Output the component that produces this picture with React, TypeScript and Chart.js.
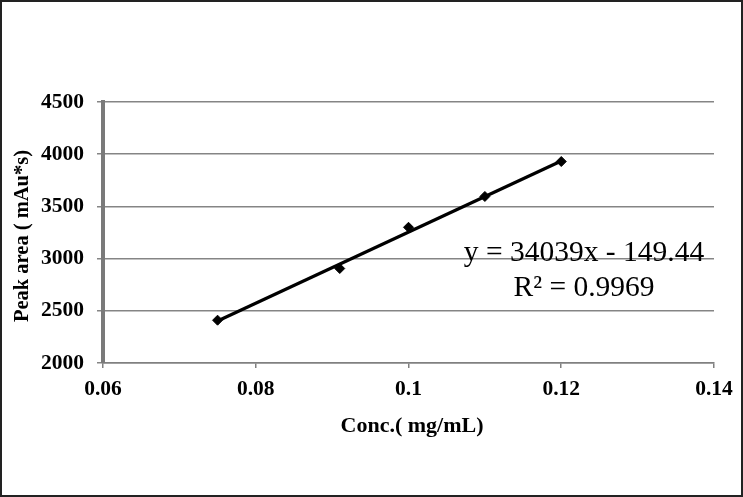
import React, { useEffect, useRef } from "react";
import { Chart, registerables } from "chart.js";

Chart.register(...registerables);

// Data
const concValues = [0.075, 0.091, 0.1, 0.11, 0.12];
const peakAreas = [2410, 2905, 3300, 3595, 3930];
const trendX = [0.075, 0.12];
const trendY = [2403, 3935];
const xTickValues = [0.06, 0.08, 0.1, 0.12, 0.14];
const xTickLabels = ["0.06", "0.08", "0.1", "0.12", "0.14"];
const yTickValues = [2000, 2500, 3000, 3500, 4000, 4500];
const yTickLabels = ["2000", "2500", "3000", "3500", "4000", "4500"];
const xAxisTitle = "Conc.( mg/mL)";
const yAxisTitle = "Peak area ( mAu*s)";
const equationText = "y = 34039x - 149.44";
const r2Text = "R² = 0.9969";

const W = 743;
const H = 497;
const SERIF = "'Liberation Serif', 'Times New Roman', serif";

export default function App() {
  const ref = useRef<HTMLCanvasElement | null>(null);

  useEffect(() => {
    if (!ref.current) return;
    const decor = {
      id: "decor",
      afterDraw(chart: any) {
        const ctx = chart.ctx;
        ctx.save();
        // frame
        ctx.strokeStyle = "#222";
        ctx.lineWidth = 2;
        ctx.strokeRect(1, 1, W - 2, H - 2);
        ctx.fillStyle = "#000";
        // y title
        ctx.save();
        ctx.translate(23, 236);
        ctx.rotate(-Math.PI / 2);
        ctx.font = `bold 20.5px ${SERIF}`;
        ctx.textAlign = "center";
        ctx.textBaseline = "middle";
        ctx.fillText(yAxisTitle, 0, 0);
        ctx.restore();
        // x title
        ctx.font = `bold 22px ${SERIF}`;
        ctx.textAlign = "center";
        ctx.textBaseline = "middle";
        ctx.fillText(xAxisTitle, 412, 426);
        // equation
        ctx.font = `29.5px ${SERIF}`;
        ctx.fillText(equationText, 584, 253);
        ctx.fillText(r2Text, 584, 288);
        ctx.restore();
      },
    };

    const chart = new Chart(ref.current, {
      type: "scatter",
      data: {
        datasets: [
          {
            type: "line",
            data: trendX.map((x, i) => ({ x, y: trendY[i] })),
            borderColor: "#000",
            borderWidth: 3.2,
            pointRadius: 0,
            showLine: true,
            fill: false,
          } as any,
          {
            data: concValues.map((x, i) => ({ x, y: peakAreas[i] })),
            backgroundColor: "#000",
            borderColor: "#000",
            pointStyle: "rectRot",
            pointRadius: 5,
            borderWidth: 1,
          },
        ],
      },
      options: {
        animation: false,
        responsive: false,
        maintainAspectRatio: false,
        layout: { padding: { left: 0, top: 102, right: 29, bottom: 0 } },
        plugins: { legend: { display: false }, tooltip: { enabled: false } },
        scales: {
          x: {
            type: "linear",
            min: 0.06,
            max: 0.14,
            afterFit: (s: any) => {
              s.height = H - 363;
            },
            afterBuildTicks: (s: any) => {
              s.ticks = xTickValues.map((v) => ({ value: v }));
            },
            ticks: {
              callback: (_v: any, i: number) => xTickLabels[i],
              font: { family: SERIF, weight: "bold", size: 21.5 },
              color: "#000",
              padding: 9,
              maxRotation: 0,
              autoSkip: false,
            },
            grid: {
              drawOnChartArea: false,
              drawTicks: true,
              tickLength: 5,
              color: "#808080",
              lineWidth: 1.5,
            },
            border: { color: "#808080", width: 1.5 },
          },
          y: {
            type: "linear",
            min: 2000,
            max: 4500,
            afterFit: (s: any) => {
              s.width = 103;
            },
            afterBuildTicks: (s: any) => {
              s.ticks = yTickValues.map((v) => ({ value: v }));
            },
            ticks: {
              callback: (_v: any, i: number) => yTickLabels[i],
              font: { family: SERIF, weight: "bold", size: 21.5 },
              color: "#000",
              padding: 13,
              autoSkip: false,
            },
            grid: {
              drawOnChartArea: true,
              drawTicks: true,
              tickLength: 6,
              color: "#858585",
              lineWidth: 1.5,
            },
            border: { color: "#7a7a7a", width: 4 },
          },
        },
      },
      plugins: [decor],
    } as any);
    return () => chart.destroy();
  }, []);

  return (
    <div style={{ position: "fixed", left: 0, top: 0, width: W, height: H, background: "#fff" }}>
      <canvas ref={ref} width={W} height={H} style={{ display: "block", width: W, height: H }} />
    </div>
  );
}
